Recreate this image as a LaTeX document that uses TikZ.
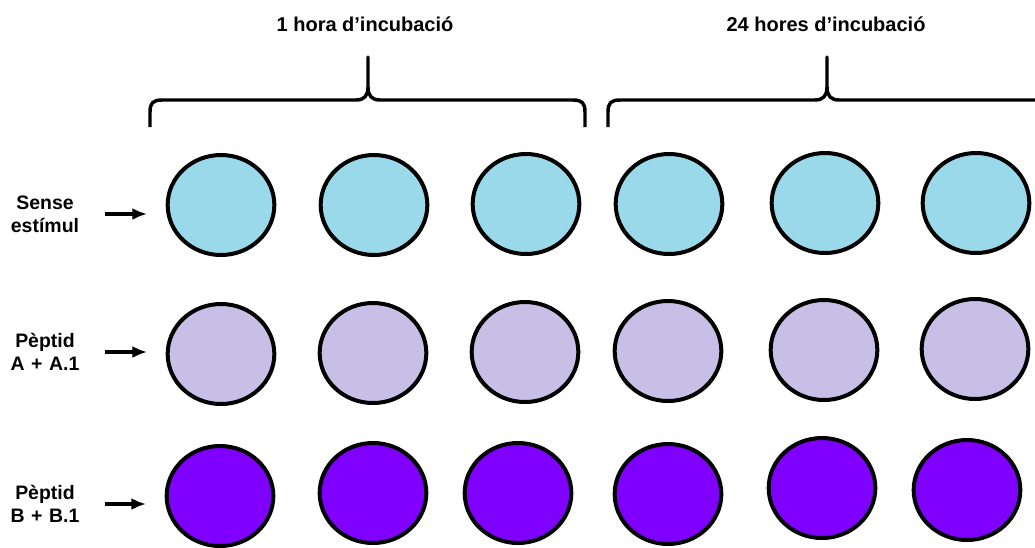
\documentclass[tikz,border=0pt]{standalone}
\usepackage{fontspec}
\setmainfont{Liberation Sans}
\usetikzlibrary{shapes.geometric,arrows.meta}
\definecolor{cellblue}{RGB}{153,217,234}
\definecolor{cellllav}{RGB}{200,191,231}
\definecolor{cellpurp}{RGB}{128,0,255}
\begin{document}
\begin{tikzpicture}[x=0.75pt,y=-0.75pt,
  well/.style={draw, ellipse, line width=3pt, inner sep=0pt, minimum width=80pt, minimum height=75pt},
  lbl/.style={font=\fontsize{14.6}{17.25}\selectfont\bfseries, align=center, text width=52.5pt, inner sep=0pt},
  head/.style={font=\fontsize{15}{18}\selectfont\bfseries},
  arr/.style={draw, line width=2.3pt, arrows={-Latex[length=11pt,width=9pt]}, shorten <=18.75pt, shorten >=14pt},
  brace/.style={line width=2.6pt, line join=round}]
\useasboundingbox (0,0) rectangle (1035,547);
% headings
\node[head] (h1) at (365,24) {1 hora d’incubació};
\node[head] (h24) at (826,24) {24 hores d’incubació};
% braces
\draw[brace] (150,127) -- (150,112) .. controls (150,103) and (153,100) .. (162,100) -- (356,100)
  .. controls (364,100) and (368,96) .. (368,87) -- (368,57) -- (368,87)
  .. controls (368,96) and (372,100) .. (380,100) -- (573,100)
  .. controls (582,100) and (585,103) .. (585,112) -- (585,127);
\draw[brace] (608,127) -- (608,112) .. controls (608,103) and (611,100) .. (620,100) -- (815,100)
  .. controls (823,100) and (827,96) .. (827,87) -- (827,57) -- (827,87)
  .. controls (827,96) and (831,100) .. (839,100) -- (1045,100);
% row 1
\node[well, fill=cellblue] (w11) at (221,205) {};
\node[well, fill=cellblue] (w12) at (374,205) {};
\node[well, fill=cellblue] (w13) at (526,204) {};
\node[well, fill=cellblue] (w14) at (669,204) {};
\node[well, fill=cellblue] (w15) at (825,203) {};
\node[well, fill=cellblue] (w16) at (976,203) {};
% row 2
\node[well, fill=cellllav] (w21) at (221,354) {};
\node[well, fill=cellllav] (w22) at (373,353) {};
\node[well, fill=cellllav] (w23) at (525,352) {};
\node[well, fill=cellllav] (w24) at (668,351) {};
\node[well, fill=cellllav] (w25) at (824,350) {};
\node[well, fill=cellllav] (w26) at (975,349) {};
% row 3
\node[well, fill=cellpurp] (w31) at (220,496) {};
\node[well, fill=cellpurp] (w32) at (373,493) {};
\node[well, fill=cellpurp] (w33) at (518,493) {};
\node[well, fill=cellpurp] (w34) at (668,494) {};
\node[well, fill=cellpurp] (w35) at (822,488) {};
\node[well, fill=cellpurp] (w36) at (967,490) {};
% labels
\node[lbl] (l1) at (45,214) {Sense\\estímul};
\node[lbl] (l2) at (45,352) {Pèptid\\A + A.1};
\node[lbl] (l3) at (45,504) {Pèptid\\B + B.1};
\path[arr] (l1.east) -- (l1.east -| w11.west);
\path[arr] (l2.east) -- (l2.east -| w21.west);
\path[arr] (l3.east) -- (l3.east -| w31.west);
\end{tikzpicture}
\end{document}
